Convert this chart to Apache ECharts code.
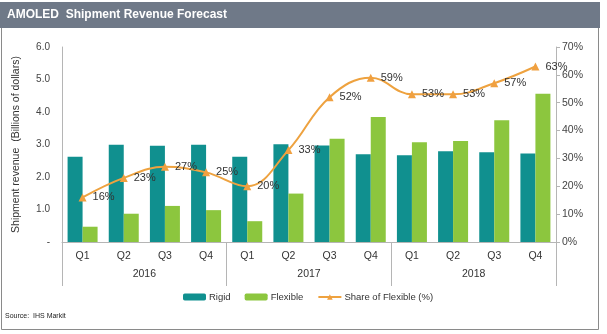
<!DOCTYPE html>
<html><head><meta charset="utf-8">
<script src="https://cdn.jsdelivr.net/npm/echarts@6/dist/echarts.min.js"></script>
<style>html,body{margin:0;padding:0;background:#fff}#c{width:607px;height:334px}</style>
</head><body><div id="c"></div>
<script>
const quarters = ['Q1','Q2','Q3','Q4','Q1','Q2','Q3','Q4','Q1','Q2','Q3','Q4'];
const years = ['2016','2017','2018'];
const rigid = [2.62,2.99,2.96,2.99,2.62,3.01,2.97,2.70,2.67,2.79,2.76,2.72];
const flexible = [0.47,0.87,1.11,0.98,0.64,1.49,3.18,3.85,3.07,3.11,3.75,4.56];
const share = [16,23,27,25,20,33,52,59,53,53,57,63];
const leftTicks = {min:0,max:6,interval:1};
const rightTicks = {min:0,max:70,interval:10};

const FONT = 'Liberation Sans';
const chart = echarts.init(document.getElementById('c'));
chart.setOption({
  animation:false,
  textStyle:{fontFamily:FONT},
  graphic:[
    {type:'rect',shape:{x:1.5,y:27.5,width:597,height:302},style:{fill:'#fff',stroke:'#8a8a8a',lineWidth:1},z:-10},
    {type:'rect',shape:{x:0,y:2,width:600,height:26},style:{fill:'#6f7988'},z:-5},
    {type:'text',left:7,top:9,style:{text:'AMOLED  Shipment Revenue Forecast',fill:'#fff',font:'bold 12px "Liberation Sans"'}},
    {type:'text',left:5,top:313,style:{text:'Source:  IHS Markit',fill:'#222',font:'7px "Liberation Sans"'}}
  ],
  grid:{left:62,right:51,top:47,bottom:92},
  legend:{
    bottom:27,left:178,itemGap:14,itemWidth:23,itemHeight:7,
    textStyle:{fontSize:9.5,color:'#333',fontFamily:FONT,padding:[0,0,0,-2]},
    data:['Rigid','Flexible','Share of Flexible (%)']
  },
  xAxis:[
    {type:'category',data:quarters,position:'bottom',
     axisLine:{show:true,lineStyle:{color:'#b5b5b5'}},axisTick:{show:false},
     axisLabel:{color:'#333',fontSize:10.5,margin:9}},
    {type:'category',data:years,position:'bottom',
     axisLine:{show:false},axisTick:{show:true,length:44,lineStyle:{color:'#b5b5b5'}},
     axisLabel:{color:'#333',fontSize:10.5,margin:27}}
  ],
  yAxis:[
    {type:'value',min:leftTicks.min,max:leftTicks.max,interval:leftTicks.interval,
     name:'Shipment revenue  (Billions of dollars)',nameLocation:'middle',nameGap:40,
     nameTextStyle:{color:'#333',fontSize:10.5},
     axisLine:{show:true,lineStyle:{color:'#b5b5b5'}},axisTick:{show:false},splitLine:{show:false},
     axisLabel:{color:'#444',fontSize:10,margin:12,formatter:v=>v===0?'-':v.toFixed(1)}},
    {type:'value',min:rightTicks.min,max:rightTicks.max,interval:rightTicks.interval,position:'right',
     axisLine:{show:true,lineStyle:{color:'#b5b5b5'}},axisTick:{show:true,length:4,lineStyle:{color:'#b5b5b5'}},
     splitLine:{show:false},
     axisLabel:{color:'#444',fontSize:10.5,margin:6,formatter:'{value}%'}}
  ],
  series:[
    {name:'Rigid',type:'bar',data:rigid,barWidth:15,barGap:'0%',itemStyle:{color:'#10908f'}},
    {name:'Flexible',type:'bar',data:flexible,barWidth:15,itemStyle:{color:'#8cc63e'}},
    {name:'Share of Flexible (%)',type:'line',yAxisIndex:1,data:share,smooth:0.4,
     symbol:'triangle',symbolSize:8,
     lineStyle:{color:'#eea23f',width:2},itemStyle:{color:'#f0a040'},
     label:{show:true,position:'right',distance:6,formatter:'{c}%',color:'#333',fontSize:11}}
  ]
});
</script></body></html>
